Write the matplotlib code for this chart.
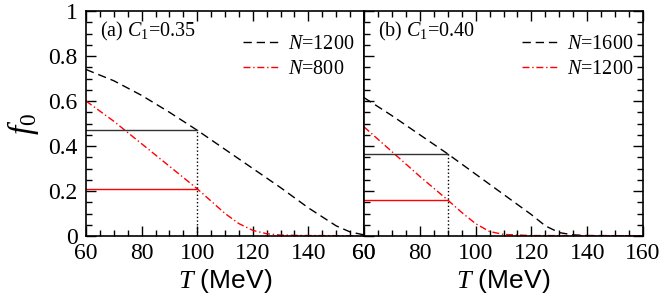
import numpy as np
import matplotlib
matplotlib.use('Agg')
import matplotlib.pyplot as plt
from matplotlib.ticker import MultipleLocator

plt.rcParams['font.family'] = 'Liberation Serif'
plt.rcParams['mathtext.fontset'] = 'custom'
plt.rcParams['mathtext.rm'] = 'Liberation Serif'
plt.rcParams['mathtext.it'] = 'Liberation Serif:italic'

# panel (a), C1 = 0.35
T_a = [60, 70, 80, 90, 100, 110, 120, 130, 140, 145, 150, 155, 160]
f_a_1200 = [0.74, 0.69, 0.625, 0.55, 0.47, 0.385, 0.30, 0.215, 0.125, 0.085, 0.045, 0.018, 0.005]
T_a_red = [60, 70, 80, 90, 100, 105, 110, 115, 120, 125, 130, 140, 160]
f_a_800 = [0.60, 0.51, 0.41, 0.31, 0.21, 0.155, 0.10, 0.055, 0.025, 0.01, 0.004, 0.002, 0.001]

# panel (b), C1 = 0.40
T_b = [60, 70, 80, 90, 100, 110, 120, 125, 130, 135, 140, 160]
f_b_1600 = [0.615, 0.535, 0.45, 0.365, 0.275, 0.185, 0.095, 0.045, 0.015, 0.005, 0.002, 0.001]
T_b_red = [60, 70, 80, 90, 95, 100, 105, 110, 120, 160]
f_b_1200 = [0.485, 0.375, 0.265, 0.16, 0.105, 0.055, 0.02, 0.007, 0.002, 0.001]

# read-off markers: T*, f0 of the two curves
T_mark = [100, 90]
f_black_mark = [0.47, 0.365]
f_red_mark = [0.21, 0.16]

labels = ['(a) $C_1$=0.35', '(b) $C_1$=0.40']
leg_black = ['$N$=1200', '$N$=1600']
leg_red = ['$N$=800', '$N$=1200']

fig = plt.figure(figsize=(6.64, 3.02), dpi=100)
ax1 = fig.add_axes([86/664, 66/302, 278/664, 225/302])
ax2 = fig.add_axes([364/664, 66/302, 279/664, 225/302])

panels = [(ax1, T_a, f_a_1200, T_a_red, f_a_800),
          (ax2, T_b, f_b_1600, T_b_red, f_b_1200)]

for i, (ax, tb, fb, tr, fr) in enumerate(panels):
    ax.plot(tb, fb, color='black', ls=(0, (6, 3.5)), lw=1.0, label=leg_black[i])
    ax.plot(tr, fr, color='red', ls=(0, (5, 2, 1, 2)), lw=1.0, label=leg_red[i])
    ax.plot([60, T_mark[i]], [f_black_mark[i]] * 2, color='#333333', lw=1.0)
    ax.plot([60, T_mark[i]], [f_red_mark[i]] * 2, color='red', lw=1.0)
    ax.plot([T_mark[i]] * 2, [0, f_black_mark[i]], color='black', ls=':', lw=1.0)

    ax.set_xlim(60, 160)
    ax.set_ylim(0, 1)
    ax.xaxis.set_major_locator(MultipleLocator(20))
    ax.xaxis.set_minor_locator(MultipleLocator(5))
    ax.yaxis.set_major_locator(MultipleLocator(0.2))
    ax.yaxis.set_minor_locator(MultipleLocator(0.05))
    ax.tick_params(which='both', direction='in', top=True, labelsize=17, pad=5)
    ax.tick_params(which='major', length=7, width=1)
    ax.tick_params(which='minor', length=4, width=1)
    for s in ax.spines.values():
        s.set_linewidth(1.2)

    ax.text(0.05, 0.96, labels[i], transform=ax.transAxes, fontsize=14.5, va='top')
    ax.legend(loc='upper right', frameon=False, fontsize=14.5, handlelength=1.75,
              borderaxespad=0.0, borderpad=0.0, labelspacing=0.3, handletextpad=0.5,
              bbox_to_anchor=(0.965, 0.895))
    ax.set_xlabel('$T$ (MeV)', fontsize=19, family='Liberation Sans', labelpad=2)

ax1.tick_params(which='both', right=False)
ax1.tick_params(axis='y', pad=6)
ax1.set_yticks([0, 0.2, 0.4, 0.6, 0.8, 1.0])
ax1.set_yticklabels(['0', '0.2', '0.4', '0.6', '0.8', '1'])
ax1.set_xticks([60, 80, 100, 120, 140, 160])
ax1.set_xticklabels(['60', '80', '100', '120', '140', '60'])
ax1.set_ylabel('$f_0$', fontsize=24, labelpad=5)

ax2.tick_params(which='both', right=True, labelleft=False)

fig.savefig('out.png', dpi=100)
